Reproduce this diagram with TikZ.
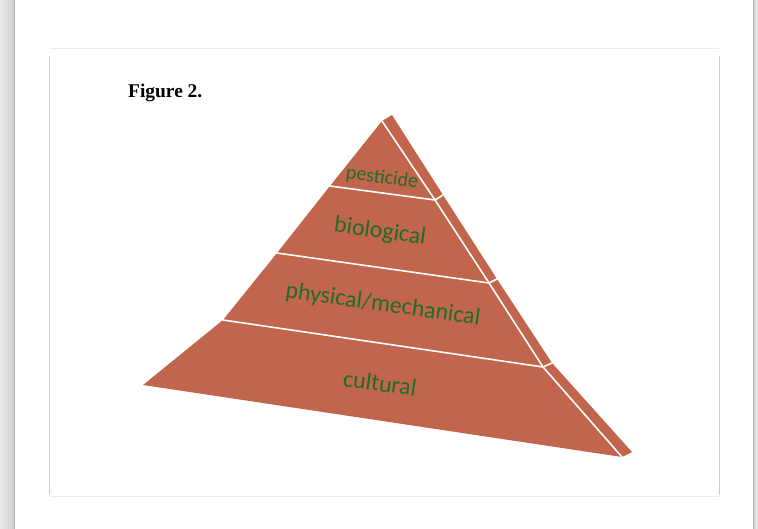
\documentclass[tikz,border=0pt]{standalone}
\usepackage{fontspec}
\setmainfont{Liberation Serif}
\newfontfamily\tierfont{Carlito}
\definecolor{brick}{RGB}{193,101,76}
\definecolor{leaf}{RGB}{32,108,42}
\definecolor{pageedge}{RGB}{180,180,180}
\definecolor{frameedge}{RGB}{205,205,205}
\definecolor{frametop}{RGB}{236,236,236}
\tikzset{
  tierlabel/.style={font=\tierfont\fontsize{24}{28}\selectfont, text=leaf, rotate=-8, inner sep=0pt},
  seam/.style={draw=white, line width=1.6pt, line cap=round, line join=round},
}
\begin{document}
\begin{tikzpicture}[x=1bp, y=-1bp]
  \useasboundingbox (0,0) rectangle (758,529);
  % page background and edges
  \fill[white] (0,0) rectangle (758,529);
  \shade[left color=white!92!black, right color=white!82!black] (0,0) rectangle (14,529);
  \draw[pageedge, line width=1.4pt] (14.5,0) -- (14.5,529);
  \shade[left color=white!80!black, right color=white!95!black] (753,0) rectangle (758,529);
  \draw[pageedge, line width=1.2pt] (753.5,0) -- (753.5,529);
  % inner figure frame
  \draw[frametop, line width=0.8pt] (50,48) -- (719,48);
  \draw[frametop, line width=0.8pt] (50,496) -- (719,496);
  \draw[frameedge, line width=1pt] (49.5,56) -- (49.5,495);
  \draw[frameedge, line width=1pt] (719,56) -- (719,495);
  % caption
  \node[anchor=base west, inner sep=0pt, font=\bfseries\fontsize{19.5}{22}\selectfont] (caption) at (128,98) {Figure 2.};

  % pyramid outline points: front face, left edge, right edge, side face
  \coordinate (apex) at (382,121);
  \coordinate (l1) at (330,186);
  \coordinate (l2) at (277,253);
  \coordinate (l3) at (223,320);
  \coordinate (l4) at (143,385);
  \coordinate (r1) at (435,200);
  \coordinate (r2) at (489,283);
  \coordinate (r3) at (543,367);
  \coordinate (r4) at (622,457);
  \coordinate (s0) at (392,115);
  \coordinate (s1) at (443,195);
  \coordinate (s2) at (497,279);
  \coordinate (s3) at (552,363);
  \coordinate (s4) at (632,452);

  % faces
  \fill[brick] (apex) -- (l1) -- (l2) -- (l3) -- (l4) -- (r4) -- (r3) -- (r2) -- (r1) -- cycle;
  \fill[brick] (apex) -- (s0) -- (s1) -- (s2) -- (s3) -- (s4) -- (r4) -- (r3) -- (r2) -- (r1) -- cycle;

  % white seams between tiers and faces
  \draw[seam] (apex) -- (r1) -- (r2) -- (r3) -- (r4);
  \draw[seam] (l1) -- (r1) -- (s1);
  \draw[seam] (l2) -- (r2) -- (s2);
  \draw[seam] (l3) -- (r3) -- (s3);

  % tier labels
  \node[tierlabel, font=\tierfont\fontsize{20}{24}\selectfont] (pest) at (382,178) {pesticide};
  \node[tierlabel] (bio) at (380,232) {biological};
  \node[tierlabel] (phys) at (383,305) {physical/mechanical};
  \node[tierlabel] (cult) at (380,383) {cultural};
\end{tikzpicture}
\end{document}
